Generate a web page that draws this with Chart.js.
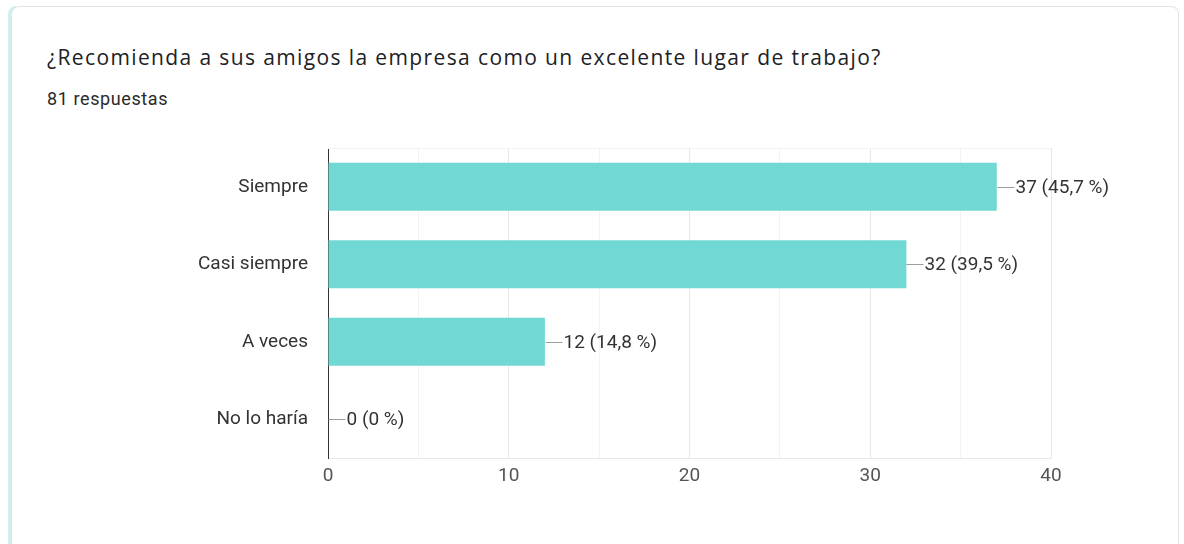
<!DOCTYPE html>
<html lang="es">
<head>
<meta charset="utf-8">
<title>Recomienda la empresa</title>
<script src="https://cdn.jsdelivr.net/npm/chart.js@4/dist/chart.umd.min.js"></script>
<style>
  html, body { margin: 0; padding: 0; background: #ffffff; }
  body { width: 1184px; height: 544px; position: relative; overflow: hidden; font-family: Roboto, "Noto Sans", Arial, sans-serif; }
  .edge { position: absolute; left: 8px; top: 6px; width: 8px; height: 560px; background: #d3f0ef; border-top-left-radius: 8px; }
  .card { position: absolute; left: 11px; top: 6px; width: 1168px; height: 580px; background: #fff; border: 1px solid #dfe1e5; border-radius: 8px; box-sizing: border-box; }
  .title { position: absolute; left: 47px; top: 43px; font-family: "Open Sans", Roboto, sans-serif; font-size: 21px; line-height: 28px; color: #202124; letter-spacing: 1.38px; white-space: nowrap; }
  .sub { position: absolute; left: 47px; top: 87px; font-size: 18px; line-height: 24px; color: #2a2a2a; letter-spacing: 0.6px; white-space: nowrap; }
  #wrap { position: absolute; left: 0; top: 0; width: 1184px; height: 544px; }
</style>
</head>
<body>
<div class="edge"></div>
<div class="card"></div>
<div class="title">¿Recomienda a sus amigos la empresa como un excelente lugar de trabajo?</div>
<div class="sub" id="sub"></div>
<div id="wrap"><canvas id="chart" width="1184" height="544"></canvas></div>
<script>
// Answer options and response counts
const categories = ['Siempre', 'Casi siempre', 'A veces', 'No lo haría'];
const responses = [37, 32, 12, 0];
const xTicks = [0, 10, 20, 30, 40];

const total = responses.reduce((a, b) => a + b, 0);
document.getElementById('sub').textContent = total + ' respuestas';

const FONT = 'Roboto, "Noto Sans", Arial, sans-serif';

function pctLabel(v) {
  const p = total ? (v / total * 100) : 0;
  const s = (Math.round(p * 10) / 10).toString().replace('.', ',');
  return v + ' (' + s + ' %)';
}

// Leader line + "n (p %)" label to the right of each bar
const valueLabels = {
  id: 'valueLabels',
  afterDatasetsDraw(chart) {
    const ctx = chart.ctx;
    const meta = chart.getDatasetMeta(0);
    ctx.save();
    ctx.font = '19px ' + FONT;
    ctx.textBaseline = 'middle';
    ctx.textAlign = 'left';
    meta.data.forEach((bar, i) => {
      const x = Math.round(bar.x) + 0.5;
      const y = Math.round(bar.y) + 0.5;
      ctx.strokeStyle = '#9e9e9e';
      ctx.lineWidth = 1;
      ctx.beginPath();
      ctx.moveTo(x, y);
      ctx.lineTo(x + 17, y);
      ctx.stroke();
      ctx.fillStyle = '#333333';
      ctx.fillText(pctLabel(responses[i]), x + 18, y + 1);
    });
    ctx.restore();
  }
};

new Chart(document.getElementById('chart'), {
  type: 'bar',
  data: {
    labels: categories,
    datasets: [{
      data: responses,
      backgroundColor: '#72d8d4',
      borderWidth: 0,
      barPercentage: 0.62,
      categoryPercentage: 1.0
    }]
  },
  options: {
    indexAxis: 'y',
    responsive: false,
    animation: false,
    events: [],
    layout: { padding: { left: 0, right: 133, top: 148, bottom: 0 } },
    plugins: { legend: { display: false }, tooltip: { enabled: false } },
    scales: {
      x: {
        min: 0,
        max: 40,
        afterFit(scale) { scale.height = 86; },
        afterBuildTicks(scale) {
          const t = [];
          for (let v = 0; v <= 40; v += 5) t.push({ value: v });
          scale.ticks = t;
        },
        ticks: {
          padding: 7,
          color: '#555555',
          font: { family: FONT, size: 19 },
          callback: (v) => xTicks.includes(v) ? String(v) : ''
        },
        grid: {
          drawTicks: false,
          color: (c) => (c.tick && c.tick.value % 10 === 0) ? '#e8e8e8' : '#f3f3f3',
          lineWidth: 1
        },
        border: { display: true, color: '#e8e8e8' }
      },
      y: {
        afterFit(scale) { scale.width = 328; },
        ticks: {
          padding: 20,
          color: '#333333',
          font: { family: FONT, size: 19 }
        },
        grid: { display: false, drawTicks: false },
        border: { display: true, color: '#333333', width: 1 }
      }
    }
  },
  plugins: [valueLabels, {
    id: 'topLine',
    beforeDatasetsDraw(chart) {
      const a = chart.chartArea, ctx = chart.ctx;
      ctx.save();
      ctx.strokeStyle = '#f3f3f3';
      ctx.beginPath();
      ctx.moveTo(a.left, a.top + 0.5);
      ctx.lineTo(a.right, a.top + 0.5);
      ctx.stroke();
      ctx.restore();
    }
  }]
});
</script>
</body>
</html>
